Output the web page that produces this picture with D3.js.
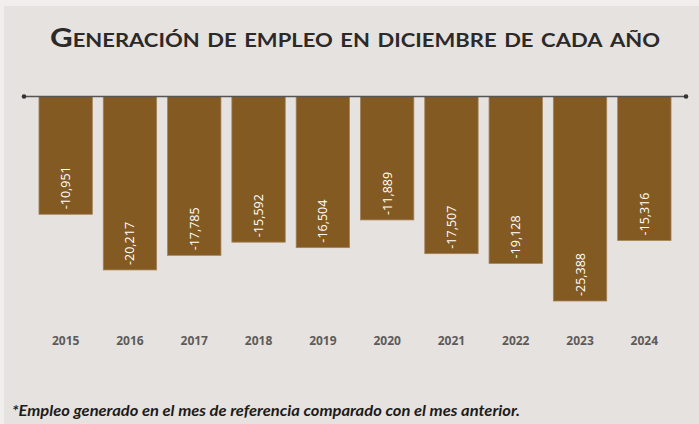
<!DOCTYPE html>
<html>
<head>
<meta charset="utf-8">
<script src="https://cdn.jsdelivr.net/npm/d3@7"></script>
<style>
  body { margin: 0; background: #f0efed; }
  svg { display: block; }
</style>
</head>
<body>
<svg id="chart" width="699" height="424"></svg>
<script>
// data
var years = ["2015", "2016", "2017", "2018", "2019", "2020", "2021", "2022", "2023", "2024"];
var empleo = [-10951, -20217, -17785, -15592, -16504, -11889, -17507, -19128, -25388, -15316];
var titulo = "Generación de empleo en diciembre de cada año";
var nota = "*Empleo generado en el mes de referencia comparado con el mes anterior.";

var width = 699, height = 424;
var svg = d3.select("#chart");

// panel background
svg.append("rect")
  .attr("x", 4).attr("y", 6)
  .attr("width", width - 4).attr("height", height - 6)
  .attr("fill", "#e6e2df");

// title in small caps
svg.append("text")
  .attr("x", 50).attr("y", 47)
  .attr("textLength", 610)
  .attr("lengthAdjust", "spacingAndGlyphs")
  .style("font-family", "Lato, 'Open Sans', sans-serif")
  .style("font-weight", "bold")
  .style("font-size", "27px")
  .style("font-variant", "small-caps")
  .attr("fill", "#2b2a29")
  .text(titulo);

var x = d3.scaleBand()
  .domain(years)
  .range([24, 686])
  .paddingInner(0.17)
  .paddingOuter(0.233);

// the value axis in the original does not start at zero; bars hang from its top
var yTop = 8660;
var y = d3.scaleLinear()
  .domain([yTop, -25388])
  .range([96.5, 301]);

var fmt = function(d) { return d3.format(",")(d).replace("\u2212", "-"); };

var g = svg.append("g");

g.selectAll(".bar")
  .data(empleo)
  .enter()
  .append("rect")
    .attr("class", "bar")
    .attr("x", function(d, i) { return x(years[i]); })
    .attr("y", y(yTop))
    .attr("width", x.bandwidth())
    .attr("height", function(d) { return y(d) - y(yTop); })
    .attr("fill", "#845a23")
    .attr("stroke", "#a3835a")
    .attr("stroke-width", 0.8);

// value labels, rotated, sitting near the bottom of each bar
g.selectAll(".lbl")
  .data(empleo)
  .enter()
  .append("text")
    .attr("class", "lbl")
    .attr("transform", function(d, i) {
      return "translate(" + (x(years[i]) + x.bandwidth() / 2 + 4.5) + "," + (y(d) - 5) + ") rotate(-90)";
    })
    .attr("text-anchor", "start")
    .style("font-family", "'Open Sans', sans-serif")
    .style("font-size", "12.5px")
    .attr("fill", "#ffffff")
    .text(fmt);

// axis line with dots at both ends
svg.append("line")
  .attr("x1", 24).attr("x2", 686)
  .attr("y1", 96.5).attr("y2", 96.5)
  .attr("stroke", "#555555")
  .attr("stroke-width", 1.3);
svg.append("circle").attr("cx", 24).attr("cy", 96.5).attr("r", 2.3).attr("fill", "#333");
svg.append("circle").attr("cx", 686).attr("cy", 96.5).attr("r", 2.3).attr("fill", "#333");

// year labels
var xAxis = svg.append("g")
  .attr("transform", "translate(0,345)")
  .call(d3.axisBottom(x).tickSize(0).tickPadding(0));
xAxis.select(".domain").remove();
xAxis.selectAll("text")
  .attr("dy", 0)
  .style("font-family", "'Open Sans', sans-serif")
  .style("font-weight", "bold")
  .style("font-size", "12px")
  .attr("fill", "#5d5b5a");

// footnote
svg.append("text")
  .attr("x", 12).attr("y", 416)
  .attr("textLength", 508)
  .attr("lengthAdjust", "spacingAndGlyphs")
  .style("font-family", "Lato, sans-serif")
  .style("font-weight", "bold")
  .style("font-style", "italic")
  .style("font-size", "15px")
  .attr("fill", "#1c1b1a")
  .text(nota);
</script>
</body>
</html>
